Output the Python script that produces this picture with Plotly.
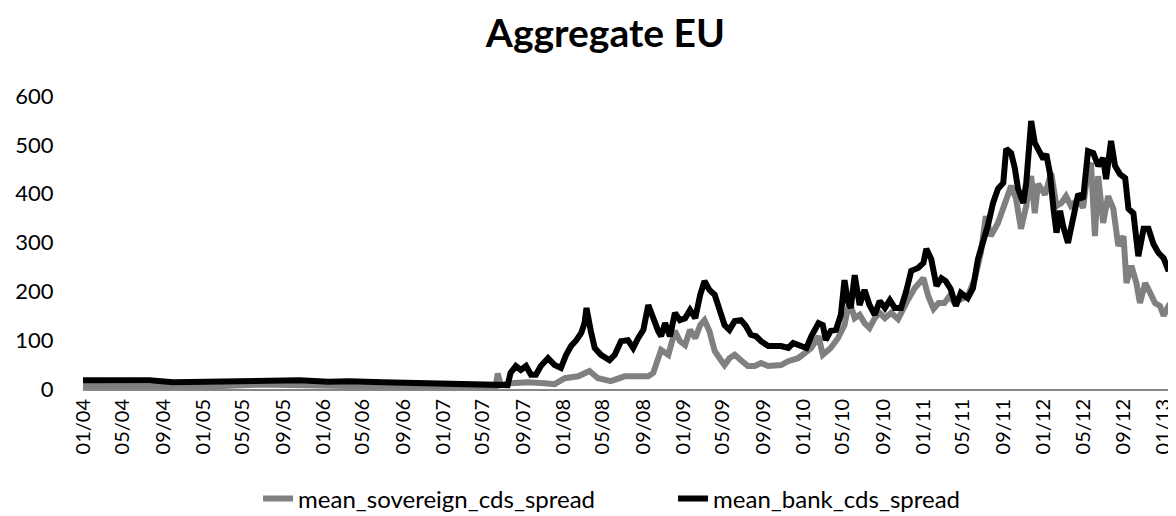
import plotly.graph_objects as go

# ---- data ----
sov_dates = ["2004-01-01","2004-07-21","2005-01-16","2005-06-21","2006-01-16","2006-07-01","2007-01-25","2007-04-10","2007-06-10","2007-06-16","2007-06-25","2007-07-25","2007-09-16","2007-11-06","2007-12-06","2008-01-06","2008-02-16","2008-03-21","2008-04-16","2008-05-25","2008-07-06","2008-08-16","2008-09-16","2008-10-01","2008-10-16","2008-10-25","2008-11-16","2008-12-06","2008-12-21","2009-01-06","2009-01-21","2009-02-06","2009-02-21","2009-03-06","2009-03-21","2009-04-06","2009-04-21","2009-05-06","2009-05-21","2009-06-06","2009-06-25","2009-07-16","2009-08-06","2009-08-25","2009-09-16","2009-10-06","2009-10-25","2009-11-16","2009-12-16","2010-01-06","2010-01-25","2010-02-16","2010-03-01","2010-03-25","2010-04-16","2010-05-06","2010-05-21","2010-06-06","2010-06-21","2010-07-06","2010-07-21","2010-08-06","2010-08-21","2010-09-06","2010-09-25","2010-10-16","2010-11-01","2010-11-16","2010-12-06","2011-01-01","2011-01-16","2011-02-01","2011-02-16","2011-03-06","2011-03-21","2011-04-06","2011-04-25","2011-05-16","2011-06-06","2011-06-25","2011-07-10","2011-07-25","2011-08-16","2011-09-06","2011-09-25","2011-10-10","2011-10-25","2011-11-10","2011-11-25","2011-12-06","2011-12-16","2012-01-06","2012-01-25","2012-02-10","2012-02-25","2012-03-10","2012-03-25","2012-04-16","2012-05-01","2012-05-16","2012-05-25","2012-06-06","2012-06-16","2012-07-01","2012-07-16","2012-08-01","2012-08-16","2012-09-01","2012-09-10","2012-09-25","2012-10-10","2012-10-21","2012-11-06","2012-11-21","2012-12-06","2012-12-21","2013-01-01","2013-01-16","2013-02-01","2013-02-16","2013-03-01"]
sov_values = [6,6,5,9,6,5,5,6,6,32,8,12,14,12,10,22,26,37,22,16,26,26,26,33,63,80,70,119,98,90,121,104,131,141,119,78,63,49,63,70,59,47,47,53,47,47,49,57,63,74,84,108,70,84,104,131,180,145,152,135,125,145,156,145,156,143,166,184,207,227,190,164,176,176,190,176,184,190,225,279,354,313,340,381,416,389,328,375,436,360,420,398,442,375,381,395,375,389,371,451,463,313,436,340,395,369,293,313,217,252,217,176,217,197,176,170,150,170,184,176,186]

bank_dates = ["2004-01-01","2004-03-16","2004-07-21","2004-10-01","2005-01-16","2005-07-01","2005-10-21","2006-01-16","2006-03-21","2006-07-01","2006-10-10","2007-01-21","2007-04-16","2007-07-16","2007-07-25","2007-08-10","2007-08-25","2007-09-10","2007-09-25","2007-10-10","2007-10-25","2007-11-16","2007-12-06","2007-12-25","2008-01-10","2008-01-25","2008-02-10","2008-02-25","2008-03-06","2008-03-12","2008-03-25","2008-04-06","2008-04-25","2008-05-21","2008-06-06","2008-06-25","2008-07-16","2008-08-01","2008-08-16","2008-09-01","2008-09-16","2008-10-01","2008-10-16","2008-10-25","2008-11-06","2008-11-21","2008-12-06","2008-12-21","2009-01-06","2009-01-21","2009-02-06","2009-02-21","2009-03-06","2009-03-21","2009-04-06","2009-04-21","2009-05-06","2009-05-21","2009-06-06","2009-06-25","2009-07-10","2009-07-25","2009-08-10","2009-08-25","2009-09-16","2009-10-06","2009-10-25","2009-11-16","2009-12-01","2009-12-25","2010-01-10","2010-01-25","2010-02-16","2010-03-01","2010-03-10","2010-03-25","2010-04-10","2010-04-25","2010-05-06","2010-05-16","2010-05-25","2010-06-06","2010-06-21","2010-07-06","2010-07-21","2010-08-06","2010-08-21","2010-09-06","2010-09-21","2010-10-06","2010-10-25","2010-11-10","2010-11-25","2010-12-16","2011-01-01","2011-01-10","2011-01-25","2011-02-10","2011-02-25","2011-03-10","2011-03-25","2011-04-10","2011-04-25","2011-05-16","2011-06-01","2011-06-16","2011-07-01","2011-07-16","2011-08-01","2011-08-16","2011-09-01","2011-09-10","2011-09-25","2011-10-06","2011-10-16","2011-11-01","2011-11-10","2011-11-25","2011-12-06","2011-12-16","2012-01-01","2012-01-10","2012-01-21","2012-02-01","2012-02-10","2012-02-21","2012-03-01","2012-03-16","2012-04-01","2012-04-16","2012-05-01","2012-05-16","2012-06-01","2012-06-16","2012-07-01","2012-07-10","2012-07-25","2012-08-06","2012-08-21","2012-09-06","2012-09-16","2012-10-01","2012-10-16","2012-11-01","2012-11-16","2012-12-01","2012-12-16","2013-01-01","2013-01-16","2013-02-01","2013-02-16","2013-03-01"]
bank_values = [18,19,18,14,15,17,18,15,16,14,12,10,9,8,33,47,39,47,29,29,47,63,49,43,70,88,100,115,135,166,119,84,70,59,70,98,100,84,104,121,172,141,119,108,135,108,156,141,145,162,145,193,221,203,193,162,131,121,139,141,129,111,108,98,88,88,88,84,94,88,84,108,135,131,100,119,121,152,223,180,166,233,172,203,172,152,180,166,182,166,166,201,242,248,258,287,266,211,227,221,205,170,197,186,207,266,299,334,381,410,422,492,483,453,410,381,422,549,504,490,471,481,442,369,320,365,334,299,354,399,389,487,483,457,473,430,508,457,440,432,369,360,272,328,328,297,279,268,242,279,266,272]

series_names = ["mean_sovereign_cds_spread", "mean_bank_cds_spread"]
title_text = "Aggregate EU"

FONT = "Lato, 'Open Sans', sans-serif"

fig = go.Figure()
fig.add_trace(go.Scatter(x=sov_dates, y=sov_values, mode="lines", name=series_names[0],
                         line=dict(color="#808080", width=6)))
fig.add_trace(go.Scatter(x=bank_dates, y=bank_values, mode="lines", name=series_names[1],
                         line=dict(color="#000000", width=6)))

fig.update_layout(
    width=1176, height=516,
    margin=dict(l=75, r=0, t=88, b=135),
    paper_bgcolor="white", plot_bgcolor="white",
    font=dict(family=FONT, color="black", size=20),
    title=dict(text="<b>" + title_text + "</b>", x=0.508, xanchor="center",
               y=0.95, yanchor="middle", font=dict(size=39, family=FONT)),
    showlegend=True,
    legend=dict(orientation="h", x=0.159, xanchor="left", y=-0.375, yanchor="middle",
                font=dict(size=24), traceorder="normal",
                entrywidth=370, entrywidthmode="pixels"),
)
fig.update_xaxes(
    type="date", range=["2004-01-01", "2013-03-04"],
    tick0="2004-01-01", dtick="M4", tickformat="%m/%y", tickangle=-90,
    showgrid=False, showline=True, linecolor="#868686", linewidth=2,
    ticks="", tickfont=dict(size=20), zeroline=False,
)
fig.update_yaxes(
    range=[0, 600], dtick=100, showgrid=False, showline=False, zeroline=False,
    ticks="outside", ticklen=24, tickcolor="rgba(0,0,0,0)", tickfont=dict(size=22),
)

fig.write_html("out.html")
